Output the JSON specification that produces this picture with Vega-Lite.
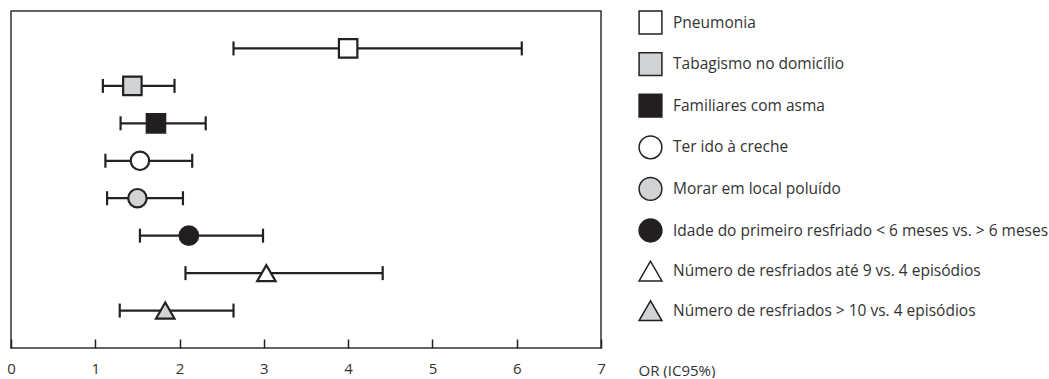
{
  "$schema": "https://vega.github.io/schema/vega-lite/v6.json",
  "width": 590,
  "height": 337,
  "padding": {"left": 6, "top": 10, "right": 2, "bottom": 0},
  "background": "white",
  "config": {
    "view": {"stroke": "#333333", "strokeWidth": 1.5},
    "font": "Open Sans",
    "axis": {"grid": false}
  },
  "data": {
    "values": [
      {"factor": "Pneumonia", "lower": 2.64, "or": 4.0, "upper": 6.06},
      {"factor": "Tabagismo no domicílio", "lower": 1.09, "or": 1.44, "upper": 1.94},
      {"factor": "Familiares com asma", "lower": 1.3, "or": 1.72, "upper": 2.31},
      {"factor": "Ter ido à creche", "lower": 1.12, "or": 1.53, "upper": 2.15},
      {"factor": "Morar em local poluído", "lower": 1.14, "or": 1.5, "upper": 2.04},
      {"factor": "Idade do primeiro resfriado < 6 meses vs. > 6 meses", "lower": 1.53, "or": 2.11, "upper": 2.99},
      {"factor": "Número de resfriados até 9 vs. 4 episódios", "lower": 2.07, "or": 3.03, "upper": 4.41},
      {"factor": "Número de resfriados > 10 vs. 4 episódios", "lower": 1.29, "or": 1.83, "upper": 2.64}
    ]
  },
  "encoding": {
    "y": {
      "field": "factor",
      "type": "nominal",
      "sort": null,
      "scale": {"type": "point", "padding": 1.04},
      "axis": null
    }
  },
  "layer": [
    {
      "mark": {"type": "rule", "strokeWidth": 2.2, "color": "#222222"},
      "encoding": {
        "x": {
          "field": "lower",
          "type": "quantitative",
          "title": "OR (IC95%)",
          "scale": {"domain": [0, 7], "nice": false, "zero": false},
          "axis": {
            "values": [0, 1, 2, 3, 4, 5, 6, 7],
            "format": "d",
            "domain": false,
            "offset": -9,
            "tickSize": 9,
            "tickWidth": 1.5,
            "tickColor": "#222222",
            "labelFontSize": 15,
            "labelColor": "#333333",
            "labelPadding": 13,
            "labelFlush": false,
            "titleX": 627,
            "titleY": 31,
            "titleAlign": "left",
            "titleAnchor": "start",
            "titleBaseline": "middle",
            "titleFontSize": 15,
            "titleFontWeight": "normal",
            "titleColor": "#333333"
          }
        },
        "x2": {"field": "upper"}
      }
    },
    {
      "mark": {"type": "tick", "thickness": 2.2, "size": 14, "color": "#222222", "opacity": 1},
      "encoding": {"x": {"field": "lower", "type": "quantitative", "title": "OR (IC95%)"}}
    },
    {
      "mark": {"type": "tick", "thickness": 2.2, "size": 14, "color": "#222222", "opacity": 1},
      "encoding": {"x": {"field": "upper", "type": "quantitative", "title": "OR (IC95%)"}}
    },
    {
      "mark": {"type": "point", "filled": true, "size": 340, "stroke": "#222222", "strokeWidth": 2.2, "opacity": 1},
      "encoding": {
        "x": {"field": "or", "type": "quantitative", "title": "OR (IC95%)"},
        "shape": {
          "field": "factor",
          "type": "nominal",
          "sort": null,
          "scale": {
            "domain": ["Pneumonia", "Tabagismo no domicílio", "Familiares com asma", "Ter ido à creche", "Morar em local poluído", "Idade do primeiro resfriado < 6 meses vs. > 6 meses", "Número de resfriados até 9 vs. 4 episódios", "Número de resfriados > 10 vs. 4 episódios"],
            "range": ["square", "square", "square", "circle", "circle", "circle", "triangle-up", "triangle-up"]
          },
          "legend": {
            "orient": "none",
            "legendX": 627,
            "legendY": -1,
            "title": null,
            "symbolSize": 520,
            "labelFontSize": 15.5,
            "labelColor": "#333333",
            "labelOffset": 10,
            "labelLimit": 500,
            "rowPadding": 12.6,
            "encode": {"symbols": {"update": {"stroke": {"value": "#333333"}, "strokeWidth": {"value": 1.2}, "opacity": {"value": 1}}}}
          }
        },
        "fill": {
          "field": "factor",
          "type": "nominal",
          "sort": null,
          "scale": {
            "domain": ["Pneumonia", "Tabagismo no domicílio", "Familiares com asma", "Ter ido à creche", "Morar em local poluído", "Idade do primeiro resfriado < 6 meses vs. > 6 meses", "Número de resfriados até 9 vs. 4 episódios", "Número de resfriados > 10 vs. 4 episódios"],
            "range": ["#ffffff", "#d2d3d5", "#231f20", "#ffffff", "#d2d3d5", "#231f20", "#ffffff", "#d2d3d5"]
          },
          "legend": {
            "orient": "none",
            "legendX": 627,
            "legendY": -1,
            "title": null,
            "symbolSize": 520,
            "labelFontSize": 15.5,
            "labelColor": "#333333",
            "labelOffset": 10,
            "labelLimit": 500,
            "rowPadding": 12.6,
            "encode": {"symbols": {"update": {"stroke": {"value": "#333333"}, "strokeWidth": {"value": 1.2}, "opacity": {"value": 1}}}}
          }
        }
      }
    }
  ]
}
